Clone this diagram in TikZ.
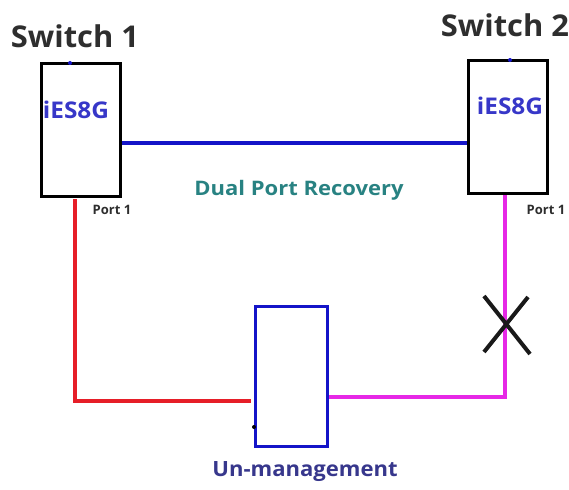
\documentclass[tikz,border=0pt]{standalone}
\usepackage{fontspec}
\setmainfont{Open Sans}
\definecolor{linkblue}{RGB}{20,20,200}
\definecolor{txtblue}{RGB}{55,55,200}
\definecolor{teal2}{RGB}{40,130,130}
\definecolor{redl}{RGB}{230,30,40}
\definecolor{magl}{RGB}{230,40,230}
\definecolor{darkbl}{RGB}{55,55,140}
\begin{document}
\begin{tikzpicture}[x=1pt,y=-1pt,
  switchbox/.style={draw=black,line width=3pt,minimum width=79pt,minimum height=132pt,inner sep=0pt},
  umbox/.style={draw=linkblue,line width=3pt,minimum width=72pt,minimum height=140pt,inner sep=0pt},
  title/.style={font=\bfseries\fontsize{30}{31}\selectfont,text=black!82,xscale=1.03},
  model/.style={font=\bfseries\fontsize{23}{24}\selectfont,text=txtblue,xscale=1.06},
  portlbl/.style={font=\bfseries\fontsize{13}{14}\selectfont,text=black!82},
  cable/.style={line width=4pt}]
\useasboundingbox (0,0) rectangle (569,489);
\node[switchbox] (s1) at (80.5,130) {};
\node[switchbox] (s2) at (507.5,127) {};
\node[umbox] (um) at (291,376) {};
\node[title] (t1) at (75,36) {Switch 1};
\node[title] (t2) at (505,25) {Switch 2};
\node[model] (m1) at (76,110) {iES8G};
\node[model] (m2) at (510,106) {iES8G};
\node[portlbl] (p1) at (112,210) {Port 1};
\node[portlbl] (p2) at (546,210) {Port 1};
\node[font=\bfseries\fontsize{20}{22}\selectfont,text=teal2,xscale=1.1] (dpr) at (299,190) {Dual Port Recovery};
\node[font=\bfseries\fontsize{21}{23}\selectfont,text=darkbl,xscale=1.05] (unm) at (305,472) {Un-management};
\coordinate (r1) at (75,199);
\coordinate (rc) at (75,401);
\coordinate (re) at (251,401);
\coordinate (g1) at (505,194);
\coordinate (gc) at (505,397);
\draw[cable,draw=linkblue] (s1.east |- 0,143) -- (s2.west |- 0,143);
\draw[cable,draw=redl,line join=miter] (r1) -- (rc) -- (re);
\draw[cable,draw=magl,line join=miter] (g1) -- (gc) -- (um.east |- gc);
\node[switchbox] at (s1) {};
\node[switchbox] at (s2) {};
\node[umbox] at (um) {};
\draw[line width=4pt,black!90] (484,296) -- (530,354) (528,297) -- (484,352);
\fill[linkblue] (70,63) circle (2);
\fill[linkblue] (510,60) circle (2);
\fill[black] (254,427) circle (2);
\end{tikzpicture}
\end{document}
